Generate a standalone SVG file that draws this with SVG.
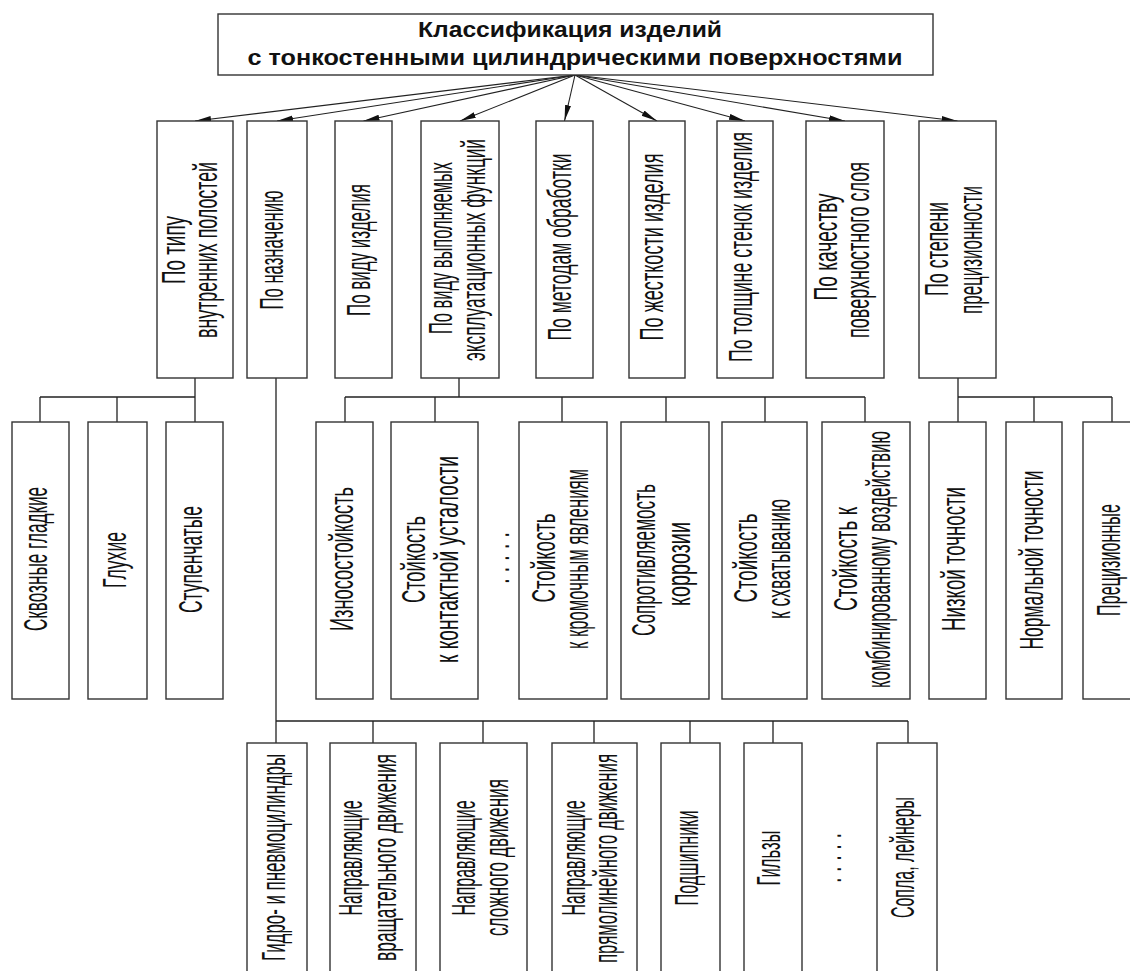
<svg xmlns="http://www.w3.org/2000/svg" width="1130" height="971" viewBox="0 0 1130 971">
<style>
.b{fill:#fff;stroke:#333;stroke-width:1.4}
.c{fill:none;stroke:#222;stroke-width:1.3}
.a{fill:none;stroke:#222;stroke-width:1.1;marker-end:url(#ah)}
.t{font-family:"Liberation Sans",Arial,sans-serif;font-size:34px;fill:#111;text-anchor:middle}
.h{font-family:"Liberation Sans",Arial,sans-serif;font-size:22px;font-weight:bold;fill:#111;text-anchor:middle}
</style>
<defs>
<marker id="ah" markerUnits="userSpaceOnUse" markerWidth="18" markerHeight="8" refX="16" refY="3" orient="auto">
<path d="M0,0 L16,3 L0,6 z" fill="#111"/>
</marker>
</defs>
<rect width="1130" height="971" fill="#fff"/>

<g id="connectors">
<line class="a" x1="575" y1="75" x2="195" y2="121"/>
<line class="a" x1="575" y1="75" x2="277" y2="121"/>
<line class="a" x1="575" y1="75" x2="363.5" y2="121"/>
<line class="a" x1="575" y1="75" x2="460" y2="121"/>
<line class="a" x1="575" y1="75" x2="564.5" y2="121"/>
<line class="a" x1="575" y1="75" x2="657" y2="121"/>
<line class="a" x1="575" y1="75" x2="745" y2="121"/>
<line class="a" x1="575" y1="75" x2="845" y2="121"/>
<line class="a" x1="575" y1="75" x2="957.5" y2="121"/>
<path class="c" d="M195,378 V397 M40,397 H195 M40,397 V422 M117,397 V422 M195,397 V422"/>
<path class="c" d="M276,378 V743 M276,721 H908 M373,721 V743 M483,721 V743 M594,721 V743 M690,721 V743 M773,721 V743 M908,721 V743"/>
<path class="c" d="M459,378 V397 M345,397 H865 M345,397 V422 M435,397 V422 M562,397 V422 M666,397 V422 M765,397 V422 M865,397 V422"/>
<path class="c" d="M958,378 V422 M958,397 H1112 M1034,397 V422 M1112,397 V422"/>
</g>

<g id="root">
<rect class="b" x="218" y="14" width="715" height="61"/>
<text class="h" x="570" y="37" textLength="304" lengthAdjust="spacingAndGlyphs">Классификация изделий</text>
<text class="h" x="575" y="65" textLength="655" lengthAdjust="spacingAndGlyphs">с тонкостенными цилиндрическими поверхностями</text>
</g>

<g id="n1">
<rect class="b" x="157" y="121" width="76" height="257"/>
<text class="t" transform="translate(185,250) rotate(-90) scale(0.47,1)" textLength="144.7" lengthAdjust="spacingAndGlyphs">По типу</text>
<text class="t" transform="translate(217,250) rotate(-90) scale(0.47,1)" textLength="374.5" lengthAdjust="spacingAndGlyphs">внутренних полостей</text>
</g>
<g id="n2">
<rect class="b" x="247" y="121" width="60" height="257"/>
<text class="t" transform="translate(283,250) rotate(-90) scale(0.47,1)" textLength="253.2" lengthAdjust="spacingAndGlyphs">По назначению</text>
</g>
<g id="n3">
<rect class="b" x="335" y="121" width="57" height="257"/>
<text class="t" transform="translate(370,250) rotate(-90) scale(0.47,1)" textLength="280.9" lengthAdjust="spacingAndGlyphs">По виду изделия</text>
</g>
<g id="n4">
<rect class="b" x="421" y="121" width="78" height="257"/>
<text class="t" transform="translate(452,248) rotate(-90) scale(0.47,1)" textLength="366" lengthAdjust="spacingAndGlyphs">По виду выполняемых</text>
<text class="t" transform="translate(485,250) rotate(-90) scale(0.47,1)" textLength="472.3" lengthAdjust="spacingAndGlyphs">эксплуатационных функций</text>
</g>
<g id="n5">
<rect class="b" x="536" y="121" width="57" height="257"/>
<text class="t" transform="translate(571,247) rotate(-90) scale(0.47,1)" textLength="397.9" lengthAdjust="spacingAndGlyphs">По методам обработки</text>
</g>
<g id="n6">
<rect class="b" x="629" y="121" width="56" height="257"/>
<text class="t" transform="translate(663,247) rotate(-90) scale(0.47,1)" textLength="397.9" lengthAdjust="spacingAndGlyphs">По жесткости изделия</text>
</g>
<g id="n7">
<rect class="b" x="717" y="121" width="56" height="257"/>
<text class="t" transform="translate(752,247) rotate(-90) scale(0.47,1)" textLength="489.4" lengthAdjust="spacingAndGlyphs">По толщине стенок изделия</text>
</g>
<g id="n8">
<rect class="b" x="806" y="121" width="78" height="257"/>
<text class="t" transform="translate(837,247) rotate(-90) scale(0.47,1)" textLength="227.7" lengthAdjust="spacingAndGlyphs">По качеству</text>
<text class="t" transform="translate(869,250) rotate(-90) scale(0.47,1)" textLength="374.5" lengthAdjust="spacingAndGlyphs">поверхностного слоя</text>
</g>
<g id="n9">
<rect class="b" x="919" y="121" width="77" height="257"/>
<text class="t" transform="translate(948,249) rotate(-90) scale(0.47,1)" textLength="200" lengthAdjust="spacingAndGlyphs">По степени</text>
<text class="t" transform="translate(982,250) rotate(-90) scale(0.47,1)" textLength="272.3" lengthAdjust="spacingAndGlyphs">прецизионности</text>
</g>

<g id="a1">
<rect class="b" x="12" y="422" width="57" height="277"/>
<text class="t" transform="translate(47,559) rotate(-90) scale(0.47,1)" textLength="306.4" lengthAdjust="spacingAndGlyphs">Сквозные гладкие</text>
</g>
<g id="a2">
<rect class="b" x="88" y="422" width="59" height="277"/>
<text class="t" transform="translate(126,560) rotate(-90) scale(0.47,1)" textLength="119.1" lengthAdjust="spacingAndGlyphs">Глухие</text>
</g>
<g id="a3">
<rect class="b" x="166" y="422" width="57" height="277"/>
<text class="t" transform="translate(202,559.5) rotate(-90) scale(0.47,1)" textLength="227.7" lengthAdjust="spacingAndGlyphs">Ступенчатые</text>
</g>

<g id="f1">
<rect class="b" x="316" y="422" width="57" height="277"/>
<text class="t" transform="translate(353,559) rotate(-90) scale(0.47,1)" textLength="306.4" lengthAdjust="spacingAndGlyphs">Износостойкость</text>
</g>
<g id="f2">
<rect class="b" x="391" y="422" width="87" height="277"/>
<text class="t" transform="translate(425,559.5) rotate(-90) scale(0.47,1)" textLength="185.1" lengthAdjust="spacingAndGlyphs">Стойкость</text>
<text class="t" transform="translate(458,559.5) rotate(-90) scale(0.47,1)" textLength="440.4" lengthAdjust="spacingAndGlyphs">к контактной усталости</text>
</g>
<g id="f-dots">
<text class="t" transform="translate(509,558) rotate(-90) scale(0.47,1)" textLength="110.6" lengthAdjust="spacingAndGlyphs">. . . . .</text>
</g>
<g id="f3">
<rect class="b" x="519" y="422" width="88" height="277"/>
<text class="t" transform="translate(555,558) rotate(-90) scale(0.47,1)" textLength="189.4" lengthAdjust="spacingAndGlyphs">Стойкость</text>
<text class="t" transform="translate(588,559) rotate(-90) scale(0.47,1)" textLength="383" lengthAdjust="spacingAndGlyphs">к кромочным явлениям</text>
</g>
<g id="f4">
<rect class="b" x="621" y="422" width="88" height="277"/>
<text class="t" transform="translate(655,560) rotate(-90) scale(0.47,1)" textLength="323.4" lengthAdjust="spacingAndGlyphs">Сопротивляемость</text>
<text class="t" transform="translate(690,564) rotate(-90) scale(0.47,1)" textLength="178.7" lengthAdjust="spacingAndGlyphs">коррозии</text>
</g>
<g id="f5">
<rect class="b" x="722" y="422" width="85" height="277"/>
<text class="t" transform="translate(757,558) rotate(-90) scale(0.47,1)" textLength="189.4" lengthAdjust="spacingAndGlyphs">Стойкость</text>
<text class="t" transform="translate(790,559) rotate(-90) scale(0.47,1)" textLength="255.3" lengthAdjust="spacingAndGlyphs">к схватыванию</text>
</g>
<g id="f6">
<rect class="b" x="822" y="422" width="88" height="277"/>
<text class="t" transform="translate(857,559) rotate(-90) scale(0.47,1)" textLength="221.3" lengthAdjust="spacingAndGlyphs">Стойкость к</text>
<text class="t" transform="translate(890,559.5) rotate(-90) scale(0.47,1)" textLength="546.8" lengthAdjust="spacingAndGlyphs">комбинированному воздействию</text>
</g>

<g id="p1">
<rect class="b" x="929" y="422" width="57" height="277"/>
<text class="t" transform="translate(965,559) rotate(-90) scale(0.47,1)" textLength="306.4" lengthAdjust="spacingAndGlyphs">Низкой точности</text>
</g>
<g id="p2">
<rect class="b" x="1006" y="422" width="56" height="277"/>
<text class="t" transform="translate(1043,560) rotate(-90) scale(0.47,1)" textLength="380.9" lengthAdjust="spacingAndGlyphs">Нормальной точности</text>
</g>
<g id="p3">
<rect class="b" x="1083" y="422" width="58" height="277"/>
<text class="t" transform="translate(1120,560) rotate(-90) scale(0.47,1)" textLength="238.3" lengthAdjust="spacingAndGlyphs">Прецизионные</text>
</g>

<g id="u1">
<rect class="b" x="247" y="743" width="60" height="250"/>
<text class="t" transform="translate(285,857.5) rotate(-90) scale(0.47,1)" textLength="440.4" lengthAdjust="spacingAndGlyphs">Гидро- и пневмоцилиндры</text>
</g>
<g id="u2">
<rect class="b" x="330" y="743" width="86" height="250"/>
<text class="t" transform="translate(362,858) rotate(-90) scale(0.47,1)" textLength="244.7" lengthAdjust="spacingAndGlyphs">Направляющие</text>
<text class="t" transform="translate(396,857.5) rotate(-90) scale(0.47,1)" textLength="440.4" lengthAdjust="spacingAndGlyphs">вращательного движения</text>
</g>
<g id="u3">
<rect class="b" x="440" y="743" width="87" height="250"/>
<text class="t" transform="translate(475,858) rotate(-90) scale(0.47,1)" textLength="244.7" lengthAdjust="spacingAndGlyphs">Направляющие</text>
<text class="t" transform="translate(508,857.5) rotate(-90) scale(0.47,1)" textLength="334" lengthAdjust="spacingAndGlyphs">сложного движения</text>
</g>
<g id="u4">
<rect class="b" x="552" y="743" width="85" height="250"/>
<text class="t" transform="translate(585,858) rotate(-90) scale(0.47,1)" textLength="244.7" lengthAdjust="spacingAndGlyphs">Направляющие</text>
<text class="t" transform="translate(617,858.5) rotate(-90) scale(0.47,1)" textLength="444.7" lengthAdjust="spacingAndGlyphs">прямолинейного движения</text>
</g>
<g id="u5">
<rect class="b" x="661" y="743" width="59" height="250"/>
<text class="t" transform="translate(698,858) rotate(-90) scale(0.47,1)" textLength="202.1" lengthAdjust="spacingAndGlyphs">Подшипники</text>
</g>
<g id="u6">
<rect class="b" x="744" y="743" width="58" height="250"/>
<text class="t" transform="translate(780,858) rotate(-90) scale(0.47,1)" textLength="117" lengthAdjust="spacingAndGlyphs">Гильзы</text>
</g>
<g id="u-dots">
<text class="t" transform="translate(841,858) rotate(-90) scale(0.47,1)" textLength="106.4" lengthAdjust="spacingAndGlyphs">. . . . .</text>
</g>
<g id="u7">
<rect class="b" x="877" y="743" width="60" height="250"/>
<text class="t" transform="translate(914,857.5) rotate(-90) scale(0.47,1)" textLength="257.4" lengthAdjust="spacingAndGlyphs">Сопла, лейнеры</text>
</g>
</svg>
